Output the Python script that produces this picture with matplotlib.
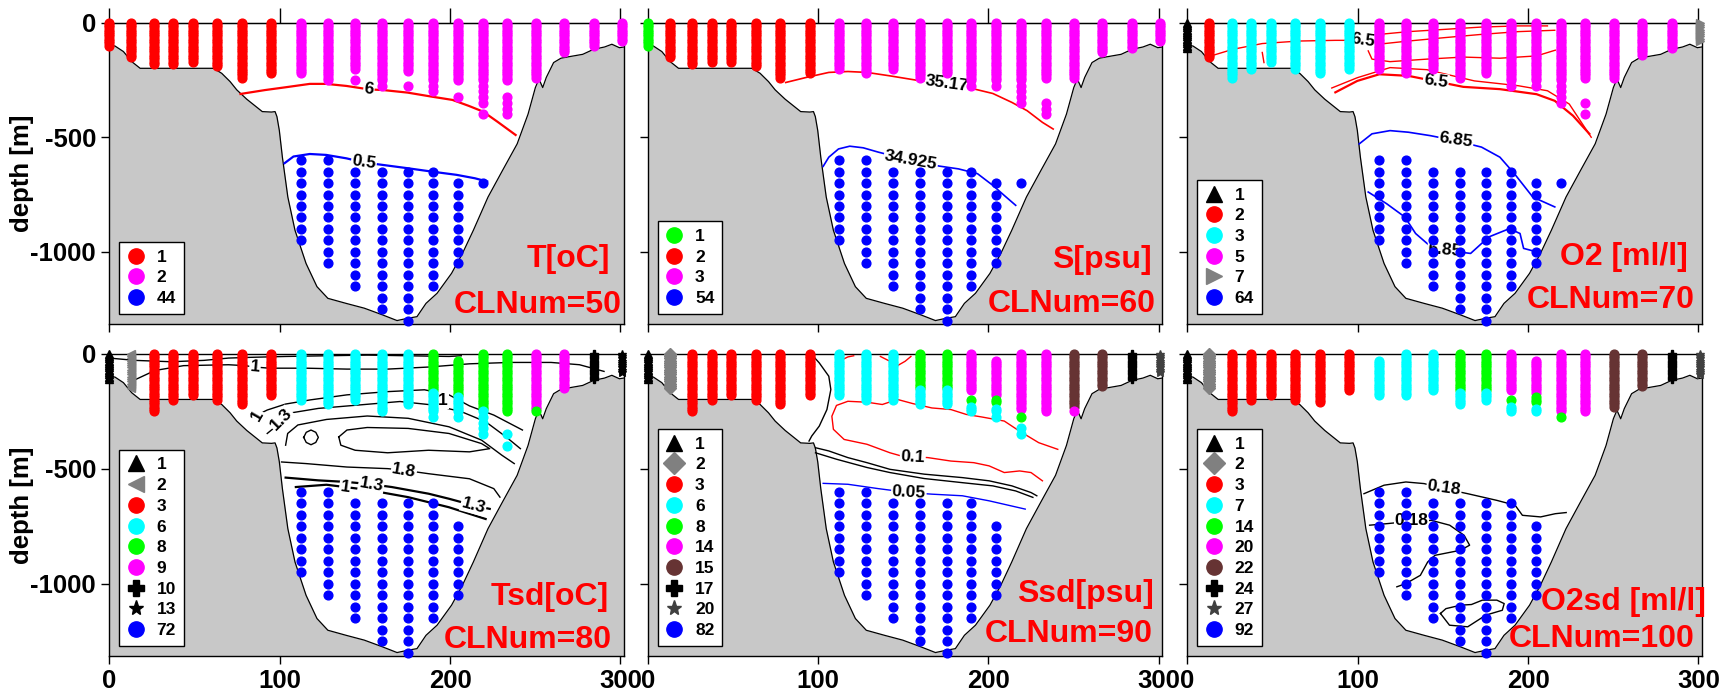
import matplotlib
matplotlib.use("Agg")
import matplotlib.pyplot as plt
from matplotlib.lines import Line2D

plt.rcParams['font.family'] = ['Liberation Sans', 'DejaVu Sans']
plt.rcParams['font.weight'] = 'bold'
plt.rcParams['axes.unicode_minus'] = False

# ---------------------------------------------------------------- section geometry
# station positions along the section [km]
stations = [0, 13, 26, 37.5, 49, 63.5, 77.7, 95, 112.3, 128.2, 144, 159.8,
            175.4, 190, 204.6, 219.2, 233.6, 250.5, 266.8, 284.4, 301]

# standard sampling depths [m]
sample_depths = [0, 10, 20, 30, 40, 50, 60, 70, 80, 90, 100, 110, 120, 130, 140,
                 150, 160, 170, 180, 190, 200, 210, 220, 230, 240, 250, 275, 300,
                 325, 350, 375, 400, 425, 450, 475, 500, 550, 600, 650, 700, 750,
                 800, 850, 900, 950, 1000, 1050, 1100, 1150, 1200, 1250, 1300]

# bottom topography along the section
bathy_x = [0, 3.4, 8.3, 13.2, 18.1, 61.2, 66, 70.9, 74.8, 80.7, 89.8, 95.2, 97.3,
           98.4, 99.8, 101.6, 104.8, 109, 115.5, 121.9, 128.3, 139, 149.7, 160.3,
           168.9, 175.2, 180.6, 185.9, 192.4, 200.9, 207.3, 213.7, 222.3, 230.8,
           239.4, 245.8, 250.1, 252.2, 254.4, 256.5, 260.8, 265.1, 269.4, 277.9,
           284.3, 290.7, 295, 299.4, 302]
bathy_z = [-97, -102, -126, -170, -199, -199, -221, -257, -293, -334, -388, -390,
           -388, -410, -470, -587, -761, -906, -1051, -1152, -1203, -1225, -1246,
           -1275, -1300, -1290, -1283, -1225, -1181, -1094, -1007, -906, -761,
           -645, -529, -399, -283, -246, -283, -239, -174, -155, -149, -138, -116,
           -106, -94, -109, -106]

RED, MAG, BLUE, CYAN, GREEN = '#ff0000', '#ff00ff', '#0000ff', '#00ffff', '#00ff00'
GRAY, BROWN, BLACK, DGRAY = '#808080', '#663333', '#000000', '#404040'

# ---------------------------------------------------------------- T panel
t_clusters = {1: ('o', RED), 2: ('o', MAG), 44: ('o', BLUE)}
t_segments = [(0, 0, 100, 1), (1, 0, 150, 1), (2, 0, 180, 1), (3, 0, 180, 1),
              (4, 0, 170, 1), (5, 0, 190, 1), (6, 0, 240, 1), (7, 0, 220, 1),
              (8, 0, 220, 2), (9, 0, 250, 2), (10, 0, 200, 2), (10, 250, 250, 2),
              (11, 0, 275, 2), (12, 0, 210, 2), (12, 275, 275, 2), (13, 0, 300, 2),
              (14, 0, 250, 2), (14, 325, 325, 2), (15, 0, 350, 2), (15, 400, 400, 2),
              (16, 0, 250, 2), (16, 325, 400, 2), (17, 0, 240, 2), (18, 0, 130, 2),
              (19, 0, 100, 2), (20, 0, 80, 2),
              (8, 600, 950, 44), (9, 600, 1050, 44), (10, 650, 1150, 44),
              (11, 650, 1250, 44), (12, 650, 1300, 44), (13, 650, 1150, 44),
              (14, 700, 1050, 44), (15, 700, 700, 44)]
t_contours = [
    ([77, 91.4, 103.3, 117.7, 127.3, 139.2, 152.4, 160.8, 175, 189.5, 201.4, 211,
      219.4, 227.8, 238.5],
     [-311, -294, -282, -267, -267, -276, -291, -294, -305, -323, -337, -363,
      -388, -432, -490], RED, 1.6),
    ([102.9, 108.1, 117.7, 127.3, 139.2, 149.5, 160.8, 175, 189.5, 203.8, 214.6,
      221.8],
     [-613, -584, -573, -577, -592, -610, -621, -635, -650, -664, -679, -693],
     BLUE, 1.6)]
t_clabels = [(152.4, -290, '6', -7), (149.5, -607, '0.5', -8)]

# ---------------------------------------------------------------- S panel
s_clusters = {1: ('o', GREEN), 2: ('o', RED), 3: ('o', MAG), 54: ('o', BLUE)}
s_segments = [(0, 0, 100, 1), (1, 0, 150, 2), (2, 0, 180, 2), (3, 0, 170, 2),
              (4, 0, 170, 2), (5, 0, 190, 2), (6, 0, 240, 2), (7, 0, 220, 2),
              (8, 0, 200, 3), (9, 0, 220, 3), (10, 0, 200, 3), (11, 0, 240, 3),
              (12, 0, 220, 3), (13, 0, 275, 3), (14, 0, 275, 3), (15, 0, 350, 3),
              (16, 0, 240, 3), (16, 350, 400, 3), (17, 0, 240, 3), (18, 0, 130, 3),
              (19, 0, 110, 3), (20, 0, 80, 3),
              (8, 600, 950, 54), (9, 600, 1050, 54), (10, 650, 1150, 54),
              (11, 650, 1250, 54), (12, 650, 1300, 54), (13, 650, 1150, 54),
              (14, 700, 1050, 54), (15, 700, 700, 54)]
s_contours = [
    ([81, 93, 106.3, 117.5, 128.7, 142.2, 157.8, 175.7, 189.2, 202.6, 213.8,
      222.7, 231.7, 238],
     [-261, -239, -217, -213, -217, -232, -251, -268, -285, -309, -348, -384,
      -435, -464], RED, 1.2),
    ([103, 106.3, 112, 118.6, 126.5, 135.4, 154.5, 171.3, 182.4, 193.6, 202.6,
      209.3, 216],
     [-627, -587, -551, -539, -546, -565, -601, -626, -638, -659, -710, -754,
      -797], BLUE, 1.2)]
s_clabels = [(175.7, -266, '35.17', -8), (154.5, -598, '34.925', -10)]

# ---------------------------------------------------------------- O2 panel
o_clusters = {1: ('^', BLACK), 2: ('o', RED), 3: ('o', CYAN), 5: ('o', MAG),
              7: ('>', GRAY), 64: ('o', BLUE)}
o_segments = [(0, 0, 110, 1), (1, 0, 150, 2), (2, 0, 240, 3), (3, 0, 200, 3),
              (4, 0, 170, 3), (5, 0, 200, 3), (6, 0, 220, 3), (7, 0, 200, 3),
              (8, 0, 200, 5), (9, 0, 220, 5), (10, 0, 200, 5), (11, 0, 240, 5),
              (12, 0, 220, 5), (13, 0, 275, 5), (14, 0, 275, 5), (15, 0, 350, 5),
              (16, 0, 240, 5), (16, 350, 350, 5), (16, 400, 400, 5), (17, 0, 240, 5),
              (18, 0, 140, 5), (19, 0, 110, 5), (20, 0, 80, 7),
              (8, 600, 950, 64), (9, 600, 1050, 64), (10, 650, 1150, 64),
              (11, 650, 1250, 64), (12, 650, 1300, 64), (13, 650, 1150, 64),
              (14, 700, 1050, 64), (15, 700, 700, 64)]
o_contours = [
    ([13.9, 26.8, 44, 65.5, 86.9, 103, 112.7, 129.8, 151.3, 172.7, 194.2, 211.4],
     [-145, -116, -91, -80, -77, -77, -51, -39, -29, -19, -14, -14], RED, 1.0),
    ([108.4, 129.8, 151.3, 172.7, 194.2, 215.7],
     [-97, -80, -65, -51, -39, -33], RED, 1.0),
    ([106.2, 108.4, 119, 140.6, 162, 183.5, 205, 216],
     [-123, -159, -170, -159, -150, -155, -145, -120], RED, 1.0),
    ([44, 45], [-130, -174], RED, 1.0),
    ([84.8, 99.8, 119, 140.6, 168.5, 194.2, 211.4, 224.2, 237.1],
     [-285, -240, -196, -205, -254, -275, -297, -355, -500], RED, 1.0),
    ([86.9, 99.8, 112.7, 129.8, 145.9, 162, 183.5, 205, 215.7, 226.4, 236],
     [-304, -254, -225, -232, -256, -280, -290, -312, -341, -406, -485], RED, 1.6),
    ([100.9, 108.4, 119, 129.8, 142.7, 157.7, 172.7, 183.5, 192, 202.8, 215.7],
     [-529, -485, -471, -478, -493, -515, -543, -587, -659, -761, -804], BLUE, 1.2),
    ([106.2, 117, 127.7, 134, 143, 151.3, 166.3, 177, 189, 195.3, 197.4, 205],
     [-739, -790, -848, -920, -978, -993, -1007, -935, -899, -920, -985, -1000],
     BLUE, 1.2)]
o_clabels = [(103, -77, '6.5', -8), (145.9, -255, '6.5', -8),
             (157.7, -513, '6.85', -8), (151.3, -993, '6.85', -5)]

# ---------------------------------------------------------------- Tsd panel
ts_clusters = {1: ('^', BLACK), 2: ('<', GRAY), 3: ('o', RED), 6: ('o', CYAN),
               8: ('o', GREEN), 9: ('o', MAG), 10: ('P', BLACK), 13: ('*', BLACK),
               72: ('o', BLUE)}
ts_segments = [(0, 0, 110, 1), (1, 0, 150, 2), (2, 0, 250, 3), (3, 0, 200, 3),
               (4, 0, 180, 3), (5, 0, 200, 3), (6, 0, 220, 3), (7, 0, 180, 3),
               (8, 0, 200, 6), (9, 0, 220, 6), (10, 0, 200, 6), (11, 0, 250, 6),
               (12, 0, 220, 6), (13, 0, 160, 8), (13, 170, 275, 6),
               (14, 30, 180, 8), (14, 190, 275, 6), (15, 0, 240, 8),
               (15, 250, 350, 6), (16, 0, 250, 8), (16, 350, 350, 6),
               (16, 400, 400, 6), (17, 0, 240, 9), (17, 250, 250, 8),
               (18, 0, 150, 9), (19, 0, 110, 10), (20, 0, 80, 13),
               (8, 600, 950, 72), (9, 600, 1050, 72), (10, 650, 1150, 72),
               (11, 650, 1250, 72), (12, 650, 1300, 72), (13, 650, 1150, 72),
               (14, 750, 1050, 72)]
ts_contours = [
    ([0, 14.9, 36.4, 55.6, 70, 82, 103.5, 127.5, 151.4, 175.4, 199.4, 206.6],
     [-19, -29, -35, -29, -19, -16, -12, -9, -6, -9, -12, -9], BLACK, 1.0),
    ([14.9, 26.8, 43.6, 70, 79.6, 85.5, 93.9, 115.5, 139.5, 163.4, 187.4, 211.4,
      235.3, 259.3, 276, 290.4],
     [-114, -73, -52, -48, -52, -58, -63, -63, -67, -67, -58, -44, -38, -38, -48,
      -77], BLACK, 1.0),
    ([86.7, 92.7, 103.5, 117.9, 139.5, 163.4, 185, 199.4, 211.4, 225.7, 242.5],
     [-267, -245, -219, -201, -179, -165, -157, -179, -227, -267, -332], BLACK, 1.0),
    ([92.7, 97.5, 101.1, 107.1, 122.7, 146.7, 170.6, 189.8, 206.6, 220.9, 232.9,
      241.3],
     [-347, -318, -286, -257, -238, -223, -208, -223, -252, -296, -362, -413],
     BLACK, 1.0),
    ([114.1, 115.6, 118.4, 121.2, 122.7, 121.2, 118.4, 115.6, 114.1],
     [-364, -342, -332, -342, -364, -386, -396, -386, -364], BLACK, 1.0),
    ([134.7, 139.5, 151.4, 175.4, 199.4, 218.5, 223.3, 211.4, 187.4, 163.4, 144.3,
      135.9, 134.7],
     [-362, -332, -321, -325, -347, -391, -413, -427, -420, -431, -420, -398, -362],
     BLACK, 1.0),
    ([103.5, 104.7, 110.7, 127.5, 151.4, 175.4, 199.4, 218.5, 230.5, 237.7],
     [-398, -347, -310, -286, -271, -281, -318, -376, -442, -478], BLACK, 1.0),
    ([101.1, 115.5, 139.5, 163.4, 173, 187.4, 211.4, 225.7, 229.3],
     [-471, -478, -493, -500, -507, -522, -544, -587, -624], BLACK, 1.0),
    ([103.5, 122.7, 139.5, 153.8, 165.8, 187.4, 199.4, 213.8, 223.3],
     [-539, -551, -558, -568, -580, -609, -631, -660, -675], BLACK, 1.6),
    ([109.5, 127.5, 138.3, 151.4, 175.4, 199.4, 220.9],
     [-580, -570, -580, -592, -624, -668, -719], BLACK, 1.6)]
ts_clabels = [(85.5, -58, '1', -5), (86.7, -267, '1', 60), (101.1, -286, '1.3', 45),
              (195.8, -204, '1', 0), (173, -507, '1.8', -10), (153.8, -568, '1.3', -10),
              (213.8, -660, '1.3', -15), (138.3, -580, '1', -8)]

# ---------------------------------------------------------------- Ssd panel
ss_clusters = {1: ('^', BLACK), 2: ('D', GRAY), 3: ('o', RED), 6: ('o', CYAN),
               8: ('o', GREEN), 14: ('o', MAG), 15: ('o', BROWN), 17: ('P', BLACK),
               20: ('*', DGRAY), 82: ('o', BLUE)}
ss_segments = [(0, 0, 110, 1), (1, 0, 150, 2), (2, 0, 250, 3), (3, 0, 200, 3),
               (4, 0, 180, 3), (5, 0, 200, 3), (6, 0, 220, 3), (7, 0, 180, 3),
               (8, 0, 180, 6), (9, 0, 200, 6), (10, 0, 200, 6),
               (11, 0, 150, 8), (11, 160, 220, 6), (12, 0, 150, 8), (12, 160, 220, 6),
               (13, 0, 160, 14), (13, 200, 200, 8), (13, 230, 250, 6),
               (14, 30, 180, 14), (14, 200, 210, 8), (14, 240, 275, 6),
               (15, 0, 240, 14), (15, 275, 275, 8), (15, 325, 350, 6),
               (16, 0, 250, 14), (17, 0, 230, 15), (17, 250, 250, 14),
               (18, 0, 140, 15), (19, 0, 110, 17), (20, 0, 80, 20),
               (8, 600, 950, 82), (9, 600, 1050, 82), (10, 650, 1150, 82),
               (11, 650, 1250, 82), (12, 650, 1300, 82), (13, 650, 1150, 82),
               (14, 750, 1050, 82)]
ss_contours = [
    ([96.3, 100.7, 106.3, 107.5, 105.2, 100.7, 96.3, 94.7],
     [-4, -40, -98, -156, -243, -315, -358, -380], BLACK, 1.0),
    ([114.2, 117.5, 120.9], [-26, -14, -9], RED, 1.0),
    ([136.6, 142.2, 146.6, 151.1, 154.5], [-12, -33, -52, -33, -12], RED, 1.0),
    ([240.7, 229.5, 218.3, 209.3, 195.9, 186.9, 178, 166.8, 155.6, 146.6, 137.7,
      128.7, 117.5, 110.8, 108.1, 109, 115.3, 128.7, 142.2, 148.9, 155.6, 164.5,
      178, 191.4, 200.4, 209.3, 218.3, 225, 231.7],
     [-416, -387, -337, -293, -275, -264, -243, -236, -217, -199, -221, -211,
      -207, -225, -272, -329, -373, -394, -431, -445, -448, -452, -467, -474,
      -488, -517, -510, -517, -553], RED, 1.0),
    ([98.5, 106.3, 117.5, 128.7, 142.2, 162.3, 184.7, 200.4, 213.8, 225, 228.4],
     [-409, -423, -452, -474, -503, -524, -539, -553, -575, -604, -618], BLACK, 1.0),
    ([98.5, 110.8, 128.7, 142.2, 162.3, 184.7, 202.6, 216, 226.1],
     [-431, -459, -495, -517, -543, -561, -575, -597, -625], BLACK, 1.0),
    ([103, 117.5, 135.4, 153.3, 166.8, 184.7, 200.4, 221.6],
     [-564, -568, -587, -604, -611, -618, -640, -676], BLUE, 1.0)]
ss_clabels = [(155.6, -448, '0.1', -3), (153.3, -602, '0.05', -3)]

# ---------------------------------------------------------------- O2sd panel
os_clusters = {1: ('^', BLACK), 2: ('D', GRAY), 3: ('o', RED), 7: ('o', CYAN),
               14: ('o', GREEN), 20: ('o', MAG), 22: ('o', BROWN), 24: ('P', BLACK),
               27: ('*', DGRAY), 92: ('o', BLUE)}
os_segments = [(0, 0, 110, 1), (1, 0, 150, 2), (2, 0, 250, 3), (3, 0, 200, 3),
               (4, 0, 180, 3), (5, 0, 200, 3), (6, 0, 210, 3), (7, 0, 160, 3),
               (8, 30, 180, 7), (9, 0, 180, 7), (10, 0, 160, 7),
               (11, 0, 160, 14), (11, 170, 220, 7), (12, 0, 160, 14), (12, 170, 200, 7),
               (13, 0, 160, 20), (13, 200, 200, 14), (13, 230, 250, 7),
               (14, 30, 170, 20), (14, 190, 210, 14), (14, 240, 250, 7),
               (15, 0, 250, 20), (15, 275, 275, 14), (16, 0, 250, 20),
               (17, 0, 230, 22), (18, 0, 140, 22), (19, 0, 110, 24), (20, 0, 90, 27),
               (8, 600, 950, 92), (9, 600, 1050, 92), (10, 650, 1150, 92),
               (11, 650, 1250, 92), (12, 650, 1300, 92), (13, 650, 1150, 92),
               (14, 750, 1050, 92)]
os_contours = [
    ([103.7, 115.5, 128.3, 139, 150.7, 164.6, 181.7, 192.4, 196.7, 207.4, 216, 222.4],
     [-609, -572, -558, -565, -587, -609, -638, -659, -703, -710, -696, -691],
     BLACK, 1.0),
    ([107, 117.6, 131.5, 143.3, 154, 162.5, 165.7, 160.4, 145.4, 141.1, 136.8,
      128.3, 123],
     [-746, -739, -729, -725, -746, -790, -833, -855, -877, -906, -964, -1000,
      -1014], BLACK, 1.0),
    ([148.6, 151.8, 160.4, 166.8, 173.2, 181.7, 186, 184.9, 175.3, 164.6, 153.9,
      148.6],
     [-1130, -1109, -1094, -1091, -1072, -1072, -1087, -1116, -1137, -1188, -1181,
      -1130], BLACK, 1.0)]
os_clabels = [(150.7, -585, '0.18', -8), (131.5, -727, '0.18', 0)]

# ---------------------------------------------------------------- figure
panels = [
    dict(clusters=t_clusters, segments=t_segments, contours=t_contours,
         clabels=t_clabels, name='T[oC]', clnum='CLNum=50',
         name_pos=(0.973, 0.19), clnum_pos=(0.996, 0.036)),
    dict(clusters=s_clusters, segments=s_segments, contours=s_contours,
         clabels=s_clabels, name='S[psu]', clnum='CLNum=60',
         name_pos=(0.980, 0.186), clnum_pos=(0.988, 0.041)),
    dict(clusters=o_clusters, segments=o_segments, contours=o_contours,
         clabels=o_clabels, name='O2 [ml/l]', clnum='CLNum=70',
         name_pos=(0.973, 0.196), clnum_pos=(0.987, 0.053)),
    dict(clusters=ts_clusters, segments=ts_segments, contours=ts_contours,
         clabels=ts_clabels, name='Tsd[oC]', clnum='CLNum=80',
         name_pos=(0.971, 0.169), clnum_pos=(0.977, 0.025)),
    dict(clusters=ss_clusters, segments=ss_segments, contours=ss_contours,
         clabels=ss_clabels, name='Ssd[psu]', clnum='CLNum=90',
         name_pos=(0.983, 0.18), clnum_pos=(0.982, 0.047)),
    dict(clusters=os_clusters, segments=os_segments, contours=os_contours,
         clabels=os_clabels, name='O2sd [ml/l]', clnum='CLNum=100',
         name_pos=(1.007, 0.152), clnum_pos=(0.987, 0.031)),
]

W, H = 1723, 695
fig = plt.figure(figsize=(W / 100, H / 100), dpi=100)
lefts = [109.3, 647.7, 1187.3]
rows = [(22.7, 324.0), (353.7, 656.0)]
ax_w = 514.5

for k, p in enumerate(panels):
    r, c = divmod(k, 3)
    top, bot = rows[r]
    ax = fig.add_axes([lefts[c] / W, 1 - bot / H, ax_w / W, (bot - top) / H])
    ax.set_xlim(0, 302)
    ax.set_ylim(-1315, 0)

    ax.fill_between(bathy_x, bathy_z, -1400, color='#c8c8c8', zorder=1, lw=0)
    ax.plot(bathy_x, bathy_z, color='black', lw=0.9, zorder=2)

    for xs, zs, col, lw in p['contours']:
        ax.plot(xs, zs, color=col, lw=lw, zorder=3)
    for x, z, txt, rot in p['clabels']:
        ax.text(x, z, txt, fontsize=12.5, fontweight='bold', ha='center',
                va='center', rotation=rot, zorder=4,
                bbox=dict(boxstyle='square,pad=0.05', fc='white', ec='none'))

    for si, d0, d1, cl in p['segments']:
        mk, col = p['clusters'][cl]
        zs = [-d for d in sample_depths if d0 <= d <= d1]
        ax.plot([stations[si]] * len(zs), zs, ls='none', marker=mk, color=col,
                mec=col, ms=6.3, zorder=5, clip_on=False)

    handles = [Line2D([], [], ls='none', marker=m, color=col, mec=col, ms=11)
               for m, col in p['clusters'].values()]
    labels = [str(kk) for kk in p['clusters']]
    leg = ax.legend(handles, labels, loc='lower left',
                    bbox_to_anchor=(10 / ax_w, 10 / 301), borderaxespad=0,
                    fancybox=False, edgecolor='black', framealpha=1,
                    prop=dict(size=12.5, weight='bold'), handlelength=1.0,
                    handletextpad=0.7, labelspacing=0.32, borderpad=0.45)
    leg.get_frame().set_linewidth(1.0)
    leg.set_zorder(10)

    ax.text(*p['name_pos'], p['name'], transform=ax.transAxes, color='red',
            fontsize=23, fontweight='bold', ha='right', va='baseline', zorder=11)
    ax.text(*p['clnum_pos'], p['clnum'], transform=ax.transAxes, color='red',
            fontsize=23, fontweight='bold', ha='right', va='baseline', zorder=11)

    ax.set_xticks([0, 100, 200, 300])
    ax.set_yticks([0, -500, -1000])
    ax.tick_params(direction='out', length=5.5, width=1, labelsize=18.5, pad=4)
    for sp in ax.spines.values():
        sp.set_linewidth(1.0)
    if r == 0:
        ax.tick_params(labelbottom=False)
        sec = ax.secondary_xaxis('top')
        sec.set_xticks([0, 100, 200, 300])
        sec.tick_params(direction='out', length=11, width=1, labeltop=False)
    if c != 0:
        ax.tick_params(labelleft=False)

for yc in [(22.7 + 324) / 2, (353.7 + 656) / 2]:
    fig.text(22 / W, 1 - yc / H, 'depth [m]', rotation=90, ha='center', va='center',
             fontsize=18.5, fontweight='bold')

fig.savefig('out.png', dpi=100)
